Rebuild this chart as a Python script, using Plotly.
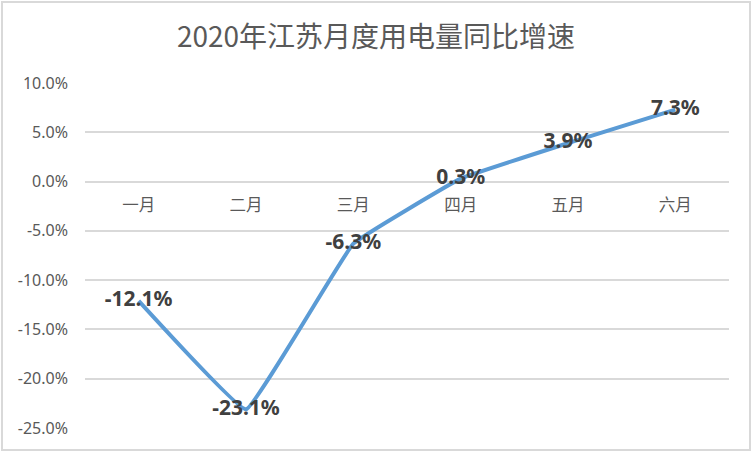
import plotly.graph_objects as go

months = ["一月", "二月", "三月", "四月", "五月", "六月"]
growth = [-12.1, -23.1, -6.3, 0.3, 3.9, 7.3]
labels = ["-12.1%", "-23.1%", "-6.3%", "0.3%", "3.9%", "7.3%"]
y_ticks = [10, 5, 0, -5, -10, -15, -20, -25]
y_tick_text = ["10.0%", "5.0%", "0.0%", "-5.0%", "-10.0%", "-15.0%", "-20.0%", "-25.0%"]
title = "2020年江苏月度用电量同比增速"

W, H = 752, 452
ml, mr, mt, mb = 85, 23, 83, 24
ymin, ymax = -25, 10

fig = go.Figure()
fig.add_trace(go.Scatter(
    x=months, y=growth, mode="lines+text",
    text=labels, textposition="middle center",
    textfont=dict(family="Noto Sans, Noto Sans CJK SC", size=21, color="#404040", weight="bold"),
    line=dict(color="#5B9BD5", width=4, shape="spline", smoothing=0.22),
    cliponaxis=False, hoverinfo="skip",
))

pos0 = (0 - ymin) / (ymax - ymin)
pw = W - ml - mr
ph = H - mt - mb

fig.update_layout(
    width=W, height=H,
    margin=dict(l=ml, r=mr, t=mt, b=mb),
    paper_bgcolor="white", plot_bgcolor="white",
    showlegend=False,
    title=dict(text=title, x=0.5, xanchor="center", y=1 - 37 / H, yanchor="middle",
               font=dict(family="Noto Sans CJK SC, Noto Sans", size=28, color="#595959")),
    xaxis=dict(anchor="free", position=pos0, range=[-0.5, 5.5], showgrid=False, showline=False,
               zeroline=False, ticks="", ticklabelstandoff=12,
               tickfont=dict(family="Noto Sans CJK SC, Noto Sans", size=16.5, color="#595959")),
    yaxis=dict(range=[ymin, ymax], tickvals=y_ticks, ticktext=y_tick_text,
               showgrid=True, gridcolor="#D9D9D9", gridwidth=1.5, zeroline=False,
               showline=False, ticks="", ticklabelstandoff=16,
               tickfont=dict(family="Noto Sans, Noto Sans CJK SC", size=16, color="#595959")),
    shapes=[dict(type="rect", xref="paper", yref="paper",
                 x0=(2 - ml) / pw, x1=(W - 2 - ml) / pw,
                 y0=-(H - 2 - mt - ph) / ph, y1=1 + (mt - 2) / ph,
                 line=dict(color="#D9D9D9", width=2), fillcolor="rgba(0,0,0,0)", layer="below")],
)

fig.write_html("out.html", config={"displayModeBar": False},
               post_script="document.body.style.margin='0';")
